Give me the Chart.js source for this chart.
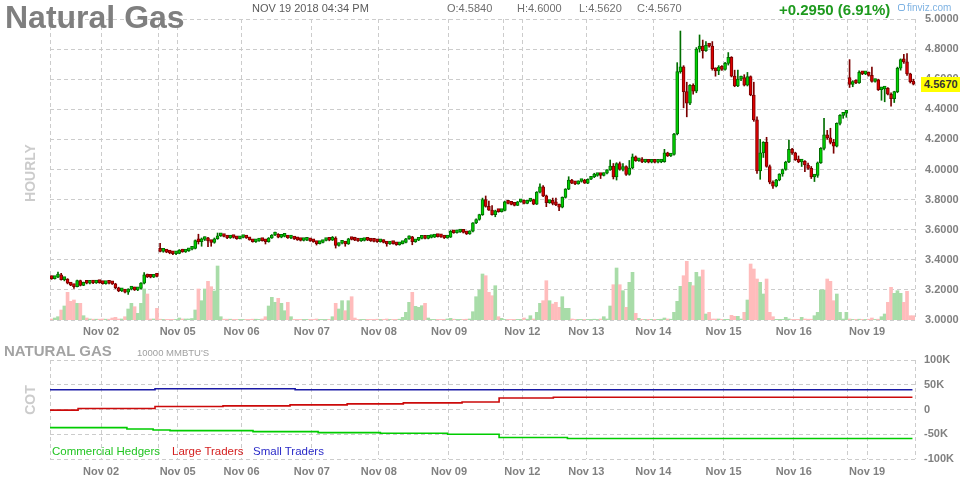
<!DOCTYPE html>
<html>
<head>
<meta charset="utf-8">
<title>Natural Gas</title>
<script src="https://cdn.jsdelivr.net/npm/chart.js@4.4.1/dist/chart.umd.min.js"></script>
<style>
  body { margin: 0; background: #fff; }
  #wrap { position: relative; width: 964px; height: 480px; overflow: hidden; font-family: "Liberation Sans", Arial, sans-serif; }
  #wrap canvas { position: absolute; left: 0; }
  .t { position: absolute; white-space: nowrap; line-height: 1; }
  .side { position: absolute; width: 80px; text-align: center; font-weight: bold; font-size: 14px; color: #cccccc; line-height: 1; transform: rotate(-90deg); }
</style>
</head>
<body>
<div id="wrap">
  <canvas id="priceChart" width="964" height="340" style="top:0"></canvas>
  <canvas id="cotChart" width="964" height="140" style="top:340px"></canvas>

  <div class="t" style="left:5px;top:1px;font-size:32px;font-weight:bold;color:#7f7f7f">Natural Gas</div>
  <div class="t" style="left:252px;top:3px;font-size:11px;color:#5a5a5a">NOV 19 2018 04:34 PM</div>
  <div class="t" style="left:447px;top:3px;font-size:11px;color:#6e6e6e">O:4.5840</div>
  <div class="t" style="left:517px;top:3px;font-size:11px;color:#6e6e6e">H:4.6000</div>
  <div class="t" style="left:579px;top:3px;font-size:11px;color:#6e6e6e">L:4.5620</div>
  <div class="t" style="left:637px;top:3px;font-size:11px;color:#6e6e6e">C:4.5670</div>
  <div class="t" style="left:779px;top:2px;font-size:15px;font-weight:bold;color:#1e9a1e">+0.2950 (6.91%)</div>
  <div style="position:absolute;left:898px;top:4px;width:5px;height:5px;border:1px solid #7fb3e3;border-radius:2px"></div>
  <div class="t" style="left:907px;top:2.5px;font-size:10px;color:#7fb3e3">finviz.com</div>
  <div class="side" style="left:-10px;top:166px">HOURLY</div>
  <div id="lastTag" class="t" style="left:921px;top:77px;width:39px;height:15px;background:#ffff00;font-size:11px;font-weight:bold;color:#333;line-height:15px;padding-left:3px;box-sizing:border-box">4.5670</div>

  <div class="t" style="left:4px;top:343px;font-size:15px;font-weight:bold;color:#a3a3a3">NATURAL GAS</div>
  <div class="t" style="left:137px;top:348px;font-size:9.5px;color:#a0a0a0">10000 MMBTU'S</div>
  <div class="side" style="left:-10px;top:393px">COT</div>
  <div class="t" style="left:52px;top:446px;font-size:11.5px;color:#22c522">Commercial Hedgers</div>
  <div class="t" style="left:172px;top:446px;font-size:11.5px;color:#d42020">Large Traders</div>
  <div class="t" style="left:253px;top:446px;font-size:11.5px;color:#2b2bc8">Small Traders</div>
</div>

<script>
// hourly bars, Nov 01 -> Nov 19 2018 (one row per session)
const opens = [
  3.285,3.275,3.285,3.300,3.268,3.272,3.245,3.232,3.222,3.262,3.230,3.250,3.244,3.248,3.246,3.249,
  3.248,3.242,3.246,3.244,3.240,3.214,3.194,3.196,3.185,3.205,3.215,3.200,3.210,3.245,3.300,3.286,3.284,3.295,
  3.470,3.456,3.462,3.451,3.445,3.440,
  3.443,3.465,3.452,3.460,3.470,3.476,3.530,3.520,3.535,3.546,3.525,3.515,3.540,3.560,3.562,3.555,3.545,3.550,3.548,3.540,
  3.548,3.552,3.545,3.532,3.520,3.525,3.530,3.527,3.520,3.545,3.565,3.570,3.550,3.556,3.558,3.545,3.548,3.538,3.532,3.528,3.530,3.534,
  3.526,3.520,3.508,3.515,3.528,3.535,3.530,3.545,3.495,3.510,3.516,3.505,3.540,3.535,3.530,3.525,3.528,3.532,3.530,3.525,3.522,
  3.520,3.530,3.515,3.505,3.515,3.508,3.500,3.508,3.515,3.540,3.552,3.520,3.530,3.542,3.550,3.542,3.548,3.551,3.556,3.554,3.552,3.545,
  3.550,3.590,3.580,3.585,3.592,3.582,3.572,3.590,3.645,3.668,3.700,3.800,3.755,3.730,3.700,3.725,3.720,
  3.728,3.785,3.775,3.768,3.762,3.785,
  3.795,3.775,3.790,3.800,3.770,3.850,3.885,3.825,3.780,3.790,3.775,3.765,3.750,3.815,3.870,3.930,3.910,3.905,3.920,3.925,
  3.910,3.935,3.950,3.960,3.965,3.960,3.975,3.998,4.023,3.950,4.040,4.000,4.020,3.968,4.010,4.085,4.058,4.068,4.050,4.060,4.048,
  4.050,4.048,4.050,4.052,4.110,4.090,4.100,4.236,4.650,4.683,4.517,4.440,4.560,4.520,4.800,4.820,4.790,4.825,4.820,4.670,4.655,4.680,
  4.665,4.705,4.745,4.620,4.555,4.600,4.610,4.560,4.617,4.495,4.330,3.990,4.110,4.180,4.020,3.915,3.890,3.930,3.970,4.000,4.050,4.134,
  4.110,4.065,4.050,4.055,4.030,4.008,3.950,3.960,4.045,4.140,4.230,4.210,4.180,4.155,4.307,4.360,4.375,
  4.610,4.565,4.585,4.575,4.645,4.635,
  4.640,4.625,4.585,4.595,4.530,4.535,4.540,4.500,4.470,4.517,4.673,4.730,4.715,4.635,4.584
];
const highs = [
  3.292,3.288,3.318,3.310,3.278,3.275,3.250,3.236,3.266,3.265,3.252,3.254,3.250,3.251,3.252,3.252,
  3.252,3.250,3.250,3.248,3.244,3.218,3.200,3.199,3.208,3.218,3.218,3.212,3.248,3.315,3.305,3.292,3.298,3.298,
  3.510,3.466,3.465,3.455,3.448,3.446,
  3.468,3.470,3.462,3.472,3.480,3.532,3.570,3.545,3.552,3.550,3.530,3.545,3.578,3.566,3.565,3.558,3.554,3.553,3.550,3.552,
  3.556,3.555,3.548,3.535,3.528,3.533,3.533,3.535,3.548,3.568,3.585,3.574,3.560,3.566,3.560,3.550,3.550,3.541,3.535,3.532,3.537,3.536,
  3.530,3.523,3.518,3.530,3.538,3.538,3.555,3.553,3.512,3.520,3.519,3.543,3.545,3.550,3.533,3.531,3.535,3.535,3.533,3.528,3.525,
  3.532,3.533,3.518,3.518,3.518,3.511,3.511,3.518,3.543,3.560,3.556,3.533,3.545,3.560,3.553,3.551,3.554,3.559,3.558,3.556,3.554,3.553,
  3.595,3.593,3.589,3.596,3.595,3.585,3.593,3.648,3.672,3.703,3.810,3.824,3.790,3.760,3.730,3.728,3.732,
  3.790,3.789,3.779,3.772,3.788,3.798,
  3.799,3.793,3.803,3.803,3.853,3.904,3.893,3.830,3.795,3.810,3.810,3.770,3.818,3.873,3.952,3.935,3.916,3.925,3.928,3.935,
  3.938,3.953,3.975,3.968,3.968,3.978,3.999,4.063,4.040,4.045,4.050,4.040,4.025,4.060,4.103,4.090,4.072,4.080,4.063,4.063,4.053,
  4.054,4.053,4.054,4.134,4.115,4.104,4.240,4.710,4.920,4.690,4.580,4.565,4.570,4.810,4.894,4.860,4.850,4.830,4.850,4.675,4.690,4.690,
  4.712,4.777,4.750,4.660,4.660,4.620,4.630,4.645,4.622,4.580,4.350,4.200,4.185,4.214,4.030,3.925,3.935,3.972,4.003,4.055,4.196,4.140,
  4.115,4.090,4.060,4.060,4.042,4.020,3.965,4.050,4.145,4.340,4.260,4.274,4.200,4.310,4.365,4.378,4.390,
  4.730,4.590,4.595,4.655,4.652,4.645,
  4.648,4.680,4.600,4.600,4.545,4.545,4.545,4.510,4.520,4.680,4.735,4.765,4.770,4.640,4.600
];
const lows = [
  3.270,3.272,3.282,3.265,3.260,3.240,3.228,3.210,3.220,3.226,3.228,3.240,3.240,3.242,3.243,3.244,
  3.238,3.238,3.240,3.236,3.208,3.188,3.189,3.180,3.170,3.200,3.196,3.195,3.205,3.240,3.282,3.280,3.282,3.286,
  3.452,3.450,3.447,3.440,3.434,3.434,
  3.440,3.450,3.449,3.456,3.466,3.472,3.505,3.490,3.528,3.487,3.490,3.510,3.536,3.555,3.552,3.540,3.542,3.544,3.536,3.538,
  3.545,3.542,3.530,3.517,3.516,3.522,3.524,3.505,3.517,3.542,3.560,3.546,3.546,3.552,3.542,3.540,3.535,3.529,3.525,3.525,3.527,3.522,
  3.516,3.498,3.505,3.512,3.525,3.526,3.528,3.478,3.490,3.505,3.490,3.502,3.532,3.527,3.522,3.522,3.525,3.527,3.522,3.519,3.516,
  3.517,3.512,3.490,3.502,3.504,3.496,3.497,3.505,3.512,3.536,3.500,3.516,3.527,3.538,3.538,3.539,3.545,3.548,3.551,3.549,3.541,3.543,
  3.548,3.576,3.577,3.582,3.578,3.568,3.569,3.586,3.640,3.663,3.695,3.750,3.728,3.696,3.686,3.716,3.717,
  3.725,3.772,3.765,3.758,3.760,3.782,
  3.772,3.772,3.787,3.766,3.767,3.845,3.820,3.753,3.775,3.765,3.760,3.726,3.745,3.810,3.866,3.906,3.900,3.902,3.916,3.907,
  3.906,3.932,3.946,3.955,3.940,3.957,3.971,3.994,3.937,3.930,3.995,3.990,3.960,3.962,4.005,4.054,4.054,4.046,4.046,4.044,4.044,
  4.044,4.044,4.045,4.048,4.086,4.086,4.096,4.230,4.640,4.410,4.350,4.430,4.500,4.510,4.780,4.740,4.785,4.812,4.660,4.620,4.630,4.658,
  4.660,4.694,4.615,4.550,4.550,4.590,4.555,4.555,4.490,4.320,3.974,3.935,4.080,4.015,3.905,3.875,3.885,3.925,3.955,3.995,4.045,4.100,
  4.060,4.045,4.020,3.985,4.000,3.940,3.920,3.948,4.040,4.130,4.200,4.170,4.108,4.150,4.296,4.340,4.347,
  4.545,4.550,4.570,4.572,4.630,4.630,
  4.620,4.580,4.580,4.525,4.460,4.450,4.495,4.420,4.445,4.510,4.660,4.705,4.625,4.575,4.562
];
const closes = [
  3.275,3.285,3.300,3.268,3.272,3.245,3.232,3.222,3.262,3.230,3.250,3.244,3.248,3.246,3.249,3.248,
  3.242,3.246,3.244,3.240,3.214,3.194,3.196,3.185,3.205,3.215,3.200,3.210,3.245,3.300,3.286,3.284,3.295,3.290,
  3.456,3.462,3.451,3.445,3.440,3.443,
  3.465,3.452,3.460,3.470,3.476,3.528,3.520,3.535,3.546,3.525,3.515,3.540,3.560,3.562,3.555,3.545,3.550,3.548,3.540,3.548,
  3.552,3.545,3.532,3.520,3.525,3.530,3.527,3.520,3.545,3.565,3.570,3.550,3.556,3.558,3.545,3.548,3.538,3.532,3.528,3.530,3.534,3.526,
  3.520,3.508,3.515,3.528,3.535,3.530,3.545,3.495,3.510,3.516,3.505,3.540,3.535,3.530,3.525,3.528,3.532,3.530,3.525,3.522,3.520,
  3.530,3.515,3.505,3.515,3.508,3.500,3.508,3.515,3.540,3.552,3.520,3.530,3.542,3.550,3.542,3.548,3.551,3.556,3.554,3.552,3.545,3.550,
  3.590,3.580,3.585,3.592,3.582,3.572,3.590,3.645,3.668,3.700,3.800,3.755,3.730,3.700,3.725,3.720,3.728,
  3.785,3.775,3.768,3.762,3.785,3.795,
  3.775,3.790,3.800,3.770,3.850,3.885,3.825,3.780,3.790,3.775,3.765,3.750,3.815,3.870,3.930,3.910,3.905,3.920,3.925,3.910,
  3.935,3.950,3.960,3.965,3.960,3.975,3.998,4.023,3.950,4.040,4.000,4.020,3.968,4.010,4.085,4.058,4.068,4.050,4.060,4.048,4.050,
  4.048,4.050,4.052,4.110,4.090,4.100,4.236,4.650,4.683,4.517,4.440,4.560,4.520,4.800,4.820,4.790,4.825,4.820,4.670,4.655,4.680,4.665,
  4.705,4.745,4.620,4.555,4.600,4.610,4.560,4.617,4.495,4.330,3.990,4.110,4.180,4.020,3.915,3.890,3.930,3.970,4.000,4.050,4.134,4.110,
  4.065,4.050,4.055,4.030,4.008,3.950,3.960,4.045,4.140,4.230,4.210,4.180,4.155,4.307,4.360,4.375,4.384,
  4.565,4.585,4.575,4.645,4.635,4.640,
  4.625,4.585,4.595,4.530,4.535,4.540,4.500,4.470,4.517,4.673,4.730,4.715,4.635,4.584,4.567
];
// hourly volume (contracts)
const volumes = [
  100,200,330,1000,1400,2770,1870,2000,1670,1670,430,200,100,80,80,80,
  100,80,80,200,270,100,100,330,1100,1670,1330,670,1670,3100,2600,100,100,1170,
  80,60,60,60,60,60,
  200,100,100,100,150,1000,3100,1930,3100,3870,3330,2900,5400,330,80,80,80,60,60,60,
  60,60,60,80,80,60,100,330,1400,2270,1770,2170,1670,930,1770,330,60,60,60,60,60,60,
  60,100,60,60,60,60,330,1670,1100,1930,930,1930,2330,200,60,60,60,60,60,60,80,
  60,60,100,60,60,60,80,270,770,1770,2770,1370,1270,1430,1670,200,60,60,60,60,60,100,
  170,80,60,60,60,80,100,830,2330,3000,4600,4430,2770,2430,3430,330,170,
  60,60,60,60,60,60,
  200,80,430,100,770,1670,1930,3930,1930,1600,1770,1270,2330,1170,1170,100,60,60,60,60,
  60,60,80,60,100,330,100,1400,3530,5200,3530,2930,1270,3770,4770,670,170,70,60,70,70,
  70,70,80,200,100,80,770,1870,3370,4430,5870,3770,3430,4770,4330,5000,600,770,100,100,100,60,
  70,70,470,370,370,100,770,2000,5600,5100,4100,3770,2600,4100,770,330,70,70,60,270,100,60,
  60,60,270,100,80,80,430,770,3000,3000,4100,3870,1930,2600,770,100,770,
  100,60,60,80,60,60,
  80,200,60,80,330,600,1770,3270,2670,2930,2670,1770,2870,430,430
];

// bar index where each session / day starts, and its label
const gridBreaks = [0, 16, 34, 40, 60, 82, 103, 125, 142, 148, 168, 189, 211, 233, 250, 256, 271];
const dayLabels = ['', 'Nov 02', '', 'Nov 05', 'Nov 06', 'Nov 07', 'Nov 08', 'Nov 09', '', 'Nov 12', 'Nov 13', 'Nov 14', 'Nov 15', 'Nov 16', '', 'Nov 19', ''];

// COT net positions (contracts), value holds from the given bar onward
const hedgersAt = [-0.5, 23.6, 31.8, 37.1, 63.1, 83.5, 103, 124, 140.2, 161.6, 269.7];
const hedgers = [-36700, -39300, -41300, -42700, -44700, -46700, -48000, -50000, -56700, -58700, -58700];
const largeAt = [-0.5, 8.3, 32.4, 53.7, 74.7, 92.6, 110.2, 128.6, 140.2, 157.2, 269.7];
const large = [-1200, 2000, 6000, 7300, 9300, 11300, 13300, 15300, 23300, 24700, 24700];
const smallAt = [-0.5, 32.4, 76.3, 269.7];
const small = [40000, 41800, 40000, 40000];

Chart.defaults.font.family = '"Liberation Sans", Arial, sans-serif';

const GRID = '#cccccc';
const TICK = '#808080';
const lastBar = closes.length - 0.5;

function timeAxis(h, pad) {
  return {
    type: 'linear', min: -0.5, max: lastBar, offset: false,
    afterBuildTicks: function(s) { s.ticks = gridBreaks.map(b => ({ value: b - 0.5 })); },
    afterFit: function(s) { s.height = h; },
    ticks: { autoSkip: false, maxRotation: 0, padding: pad, color: TICK, font: { size: 11, weight: 'bold' },
      callback: (v, i) => dayLabels[i] },
    grid: { color: GRID, drawTicks: false, offset: false },
    border: { display: false, dash: [4, 3] }
  };
}

const up = closes.map((c, i) => c >= opens[i]);

const priceChart = new Chart(document.getElementById('priceChart'), {
  type: 'bar',
  data: {
    datasets: [
      {
        label: 'Volume', yAxisID: 'vol', grouped: false, order: 3, barThickness: 3,
        data: volumes.map((v, i) => ({ x: i, y: v })),
        backgroundColor: up.map(u => u ? '#a8dca8' : '#ffbcbc')
      },
      {
        label: 'Range', yAxisID: 'y', grouped: false, order: 2, barThickness: 1,
        data: lows.map((l, i) => ({ x: i, y: [l, highs[i]] })),
        backgroundColor: up.map(u => u ? '#006e00' : '#7a0000')
      },
      {
        label: 'Body', yAxisID: 'y', grouped: false, order: 1, barThickness: 3, minBarLength: 3,
        borderWidth: 1, borderSkipped: false,
        data: opens.map((o, i) => ({ x: i, y: [o, closes[i]] })),
        backgroundColor: up.map(u => u ? '#00d200' : '#dc0000'),
        borderColor: up.map(u => u ? '#006e00' : '#7a0000')
      }
    ]
  },
  options: {
    responsive: false, animation: false, events: [],
    layout: { padding: { left: 50, top: 19, right: 0, bottom: 0 } },
    plugins: { legend: { display: false }, tooltip: { enabled: false } },
    scales: {
      x: timeAxis(20, 5),
      y: {
        position: 'right', min: 3, max: 5,
        afterFit: function(s) { s.width = 49; },
        ticks: { stepSize: 0.2, maxTicksLimit: 20, padding: 10, color: TICK, font: { size: 11, weight: 'bold' },
          callback: v => Number(v).toFixed(4) },
        grid: { color: GRID, drawTicks: false },
        border: { display: false, dash: [4, 3] }
      },
      vol: { axis: 'y', position: 'left', display: false, min: 0, max: 30100 }
    }
  }
});

// current price tag on the price axis
const tag = document.getElementById('lastTag');
tag.style.top = (priceChart.scales.y.getPixelForValue(closes[closes.length - 1]) - 7.5) + 'px';

function cotLine(label, xs, ys, color) {
  return {
    label: label, data: xs.map((x, i) => ({ x: x, y: ys[i] })),
    borderColor: color, borderWidth: 1.6, pointRadius: 0, stepped: true, fill: false
  };
}

new Chart(document.getElementById('cotChart'), {
  type: 'line',
  data: {
    datasets: [
      cotLine('Small Traders', smallAt, small, '#1a1aa6'),
      cotLine('Large Traders', largeAt, large, '#cc0a0a'),
      cotLine('Commercial Hedgers', hedgersAt, hedgers, '#00cc00')
    ]
  },
  options: {
    responsive: false, animation: false, events: [],
    layout: { padding: { left: 50, top: 20, right: 0, bottom: 0 } },
    plugins: { legend: { display: false }, tooltip: { enabled: false } },
    scales: {
      x: timeAxis(21, 6),
      y: {
        position: 'right', min: -100000, max: 100000,
        afterFit: function(s) { s.width = 49; },
        ticks: { stepSize: 50000, padding: 9, color: TICK, font: { size: 11, weight: 'bold' },
          callback: v => v === 0 ? '0' : (v / 1000) + 'K' },
        grid: { color: GRID, drawTicks: false },
        border: { display: false, dash: [4, 3] }
      }
    }
  }
});
</script>
</body>
</html>
